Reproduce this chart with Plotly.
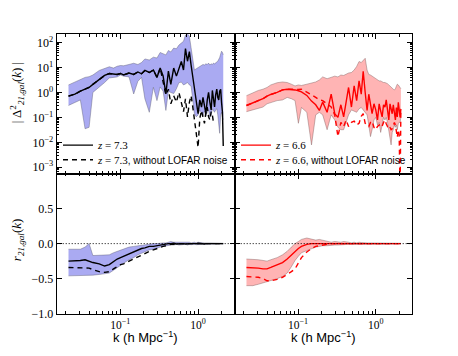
import plotly.graph_objects as go

# ---------------- data ----------------
k = [0.0217, 0.0262, 0.0308, 0.0354, 0.0399, 0.0446, 0.0538, 0.0631, 0.0725, 0.0821,
     0.0915, 0.101, 0.1106, 0.1297, 0.149, 0.1687, 0.188, 0.2075, 0.2365, 0.2668,
     0.2965, 0.326, 0.3556, 0.386, 0.4157, 0.4467, 0.4864, 0.527, 0.5675, 0.6095,
     0.650, 0.689, 0.731, 0.773, 0.813, 0.855, 0.897, 0.948, 1.0, 1.052,
     1.106, 1.156, 1.208, 1.259, 1.312, 1.363, 1.416, 1.472, 1.525, 1.575,
     1.627, 1.681, 1.737, 1.789, 1.841, 1.892, 1.95, 2.0, 2.056, 2.104]

# z = 7.3 : |Delta^2_21,gal(k)|
ps73 = [0.71, 0.85, 1.12, 1.32, 1.58, 2.1, 3.16, 4.8, 5.75, 5.5,
        5.25, 5.75, 5.0, 6.0, 5.25, 6.6, 5.6, 7.6, 6.3, 7.9,
        4.0, 9.5, 4.6, 0.87, 7.2, 2.1, 9.5, 4.5, 10, 17.4,
        7.9, 57.5, 17.8, 43.6, 12.6, 4.0, 1.35, 0.35, 0.14, 0.5,
        0.26, 0.63, 0.32, 0.14, 0.5, 1.0, 0.4, 0.2, 1.2, 0.5,
        0.26, 0.8, 1.35, 0.63, 0.5, 1.12, 1.35, 0.4, 0.16, 0.0071]
ps73_nonoise = [0.71, 0.85, 1.12, 1.32, 1.58, 2.1, 3.16, 4.8, 5.75, 5.5,
                5.25, 5.75, 5.0, 6.0, 5.25, 6.6, 5.6, 7.6, 6.3, 7.9,
                4.0, 9.5, 2.8, 0.8, 1.35, 0.35, 0.74, 0.41, 1.0, 0.35,
                0.17, 0.55, 0.105, 0.4, 0.74, 0.26, 0.091, 0.032, 0.0063, 0.091,
                0.19, 0.1, 0.058, 0.16, 0.26, 0.105, 0.079, 0.17, 0.126, 0.063]
ps73_hi = [2.0, 2.6, 3.5, 4.0, 4.3, 5.0, 7.6, 9.5, 10.7, 9.5,
           11.2, 12, 11.7, 13.2, 14.8, 13.2, 15.8, 22, 20, 26,
           24, 40, 35, 32, 48, 42, 60, 56, 79, 100,
           112, 200, 224, 178, 63, 20, 7.9, 8.9, 10, 11.2,
           12.6, 13.2, 12.6, 14, 13.2, 15, 12.6, 14, 13.2, 15,
           14, 15.8, 16.6, 17.8, 20, 25, 35, 45, 40, 32]
ps73_lo = [0.3, 0.38, 0.5, 0.035, 0.04, 1.0, 1.6, 2.5, 3.8, 4.0,
           4.2, 5.0, 4.5, 4.2, 0.87, 2.8, 4.0, 0.56, 0.16, 1.6,
           0.47, 1.66, 1.12, 0.19, 1.12, 1.0, 0.9, 1.4, 2.45, 2.6,
           2.0, 2.2, 2.5, 2.0, 1.8, 0.5, 0.14, 0.105, 0.126, 0.2,
           0.14, 0.11, 0.18, 0.11, 0.16, 0.2, 0.1, 0.126, 0.22, 0.18,
           0.16, 0.2, 0.22, 0.126, 0.05, 0.023, 0.126, 0.16, 0.1, 0.08]

# z = 6.6 : |Delta^2_21,gal(k)|
ps66 = [0.3, 0.38, 0.47, 0.56, 0.71, 0.83, 1.0, 1.26, 1.35, 1.32,
        1.26, 1.17, 1.05, 0.76, 0.45, 0.32, 0.19, 0.41, 0.16, 0.85,
        0.14, 0.1, 0.32, 0.105, 0.41, 1.58, 0.26, 1.82, 0.47, 2.9,
        0.85, 7.1, 1.0, 0.19, 0.85, 0.32, 0.14, 0.35, 0.2, 0.079,
        0.35, 0.18, 0.105, 0.32, 0.26, 0.5, 0.19, 0.079, 0.35, 0.25,
        0.14, 0.32, 0.16, 0.079, 0.25, 0.105, 0.4, 0.2, 0.1, 0.22]
ps66_nonoise = [0.3, 0.38, 0.47, 0.56, 0.71, 0.83, 1.0, 1.26, 1.35, 1.32,
                1.32, 1.32, 1.35, 1.05, 0.8, 0.63, 0.5, 0.47, 0.35, 0.26,
                0.126, 0.017, 0.063, 0.043, 0.079, 0.043, 0.063, 0.071, 0.05, 0.058,
                0.11, 0.14, 0.058, 0.05, 0.043, 0.063, 0.071, 0.04, 0.032, 0.043,
                0.05, 0.04, 0.045, 0.063, 0.079, 0.056, 0.043, 0.05, 0.04, 0.032,
                0.035, 0.05, 0.063, 0.05, 0.032, 0.016, 0.032, 0.02, 0.0001, 0.22]
ps66_hi = [0.74, 1.0, 1.2, 1.35, 1.58, 2.0, 2.45, 2.63, 2.5, 2.14,
           1.82, 2.0, 1.9, 2.14, 2.45, 2.63, 3.16, 4.2, 3.55, 4.0,
           4.5, 4.2, 5.0, 4.8, 5.6, 6.0, 6.3, 7.9, 11, 17.4,
           15.8, 20, 23.4, 7.9, 5.25, 5.0, 4.5, 4.0, 3.8, 3.16,
           2.9, 2.9, 2.63, 2.5, 2.5, 2.4, 2.24, 2.0, 1.78, 1.58,
           1.41, 1.35, 1.26, 1.41, 1.78, 2.14, 2.0, 1.78, 1.58, 1.41]
ps66_lo = [0.17, 0.2, 0.24, 0.26, 0.35, 0.4, 0.47, 0.5, 0.63, 0.56,
           0.47, 0.058, 0.25, 0.16, 0.0079, 0.126, 0.16, 0.126, 0.032, 0.126,
           0.079, 0.04, 0.032, 0.032, 0.063, 0.126, 0.2, 0.18, 0.16, 0.22,
           0.25, 0.2, 0.16, 0.126, 0.05, 0.017, 0.032, 0.079, 0.1, 0.05,
           0.063, 0.025, 0.05, 0.1, 0.079, 0.1, 0.063, 0.032, 0.016, 0.0079,
           0.025, 0.032, 0.05, 0.04, 0.05, 0.032, 0.056, 0.063, 0.063, 0.1]

# z = 7.3 : r_21,gal(k)
r73 = [-0.25, -0.25, -0.24, -0.23, -0.25, -0.27, -0.29, -0.32, -0.30, -0.25,
       -0.22, -0.2, -0.18, -0.15, -0.11, -0.09, -0.07, -0.06, -0.04, -0.04,
       -0.03, -0.02, -0.01, -0.01, 0.0, 0.0, 0.005, -0.005, 0.0, 0.005,
       0.0, -0.005, 0.0, 0.005, 0.0, 0.0, -0.005, 0.0, 0.005, 0.0,
       0.0, 0.0, -0.005, 0.0, 0.0, 0.005, 0.0, 0.0, 0.0, -0.005,
       0.0, 0.0, 0.0, 0.005, 0.0, 0.0, 0.0, 0.0, 0.0, 0.0]
r73_nonoise = [-0.34, -0.34, -0.34, -0.34, -0.35, -0.37, -0.40, -0.41, -0.40, -0.36,
               -0.33, -0.30, -0.29, -0.25, -0.22, -0.19, -0.16, -0.14, -0.11, -0.09,
               -0.07, -0.05, -0.04, -0.03, -0.02, -0.01, -0.01, 0.0, 0.0, 0.0,
               0.0, 0.0, 0.0, 0.0, 0.0, 0.0, 0.0, 0.0, 0.0, 0.0,
               0.0, 0.0, 0.0, 0.0, 0.0, 0.0, 0.0, 0.0, 0.0, 0.0,
               0.0, 0.0, 0.0, 0.0, 0.0, 0.0, 0.0, 0.0, 0.0, 0.0]
r73_hi = [-0.08, -0.08, -0.08, -0.05, 0.0, -0.17, -0.17, -0.16, -0.16, -0.13,
          -0.11, -0.09, -0.08, -0.05, -0.04, -0.03, -0.02, -0.01, 0.0, 0.0,
          0.0, 0.01, 0.01, 0.01, 0.02, 0.03, 0.02, 0.02, 0.03, 0.02,
          0.02, 0.02, 0.03, 0.02, 0.01, 0.02, 0.02, 0.01, 0.02, 0.015,
          0.01, 0.015, 0.01, 0.01, 0.015, 0.01, 0.01, 0.01, 0.015, 0.01,
          0.01, 0.01, 0.008, 0.01, 0.008, 0.008, 0.008, 0.006, 0.006, 0.005]
r73_lo = [-0.46, -0.46, -0.46, -0.45, -0.45, -0.45, -0.44, -0.43, -0.42, -0.38,
          -0.34, -0.31, -0.28, -0.23, -0.2, -0.16, -0.14, -0.12, -0.09, -0.08,
          -0.06, -0.05, -0.04, -0.03, -0.02, -0.02, -0.02, -0.01, -0.02, -0.015,
          -0.02, -0.01, -0.02, -0.01, -0.015, -0.01, -0.01, -0.015, -0.01, -0.01,
          -0.01, -0.01, -0.01, -0.008, -0.01, -0.008, -0.01, -0.008, -0.008, -0.008,
          -0.008, -0.006, -0.006, -0.006, -0.006, -0.005, -0.005, -0.005, -0.005, -0.005]

# z = 6.6 : r_21,gal(k)
r66 = [-0.34, -0.34, -0.35, -0.36, -0.36, -0.34, -0.3, -0.27, -0.22, -0.16,
       -0.11, -0.07, -0.04, -0.01, 0.0, 0.0, 0.005, 0.0, -0.005, 0.0,
       0.005, 0.0, 0.0, -0.005, 0.0, 0.005, 0.0, 0.0, 0.0, -0.005,
       0.0, 0.005, 0.0, 0.0, 0.0, 0.0, -0.005, 0.0, 0.0, 0.005,
       0.0, 0.0, 0.0, 0.0, -0.005, 0.0, 0.0, 0.0, 0.005, 0.0,
       0.0, 0.0, 0.0, 0.0, 0.0, 0.0, 0.0, 0.0, 0.0, 0.0]
r66_nonoise = [-0.47, -0.47, -0.48, -0.5, -0.53, -0.53, -0.51, -0.48, -0.44, -0.4,
               -0.36, -0.28, -0.2, -0.12, -0.07, -0.04, -0.03, -0.02, -0.01, 0.0,
               0.0, 0.0, 0.0, 0.0, 0.0, 0.0, 0.0, 0.0, 0.0, 0.0,
               0.0, 0.0, 0.0, 0.0, 0.0, 0.0, 0.0, 0.0, 0.0, 0.0,
               0.0, 0.0, 0.0, 0.0, 0.0, 0.0, 0.0, 0.0, 0.0, 0.0,
               0.0, 0.0, 0.0, 0.0, 0.0, 0.0, 0.0, 0.0, 0.0, 0.0]
r66_hi = [-0.22, -0.22, -0.23, -0.24, -0.25, -0.23, -0.2, -0.16, -0.11, -0.05,
          0.0, 0.03, 0.06, 0.08, 0.06, 0.05, 0.06, 0.05, 0.04, 0.02,
          0.03, 0.02, 0.02, 0.03, 0.02, 0.02, 0.01, 0.02, 0.01, 0.02,
          0.015, 0.01, 0.015, 0.01, 0.01, 0.01, 0.015, 0.01, 0.01, 0.01,
          0.01, 0.01, 0.01, 0.01, 0.008, 0.01, 0.008, 0.008, 0.008, 0.008,
          0.006, 0.006, 0.006, 0.006, 0.006, 0.005, 0.005, 0.005, 0.005, 0.005]
r66_lo = [-0.6, -0.6, -0.58, -0.56, -0.55, -0.53, -0.5, -0.47, -0.42, -0.33,
          -0.24, -0.18, -0.13, -0.1, -0.07, -0.05, -0.04, -0.03, -0.03, -0.02,
          -0.02, -0.02, -0.015, -0.01, -0.015, -0.01, -0.01, -0.015, -0.01, -0.01,
          -0.01, -0.01, -0.01, -0.008, -0.01, -0.008, -0.008, -0.008, -0.008, -0.008,
          -0.006, -0.006, -0.006, -0.006, -0.006, -0.005, -0.005, -0.005, -0.005, -0.005,
          -0.005, -0.005, -0.005, -0.005, -0.005, -0.005, -0.005, -0.005, -0.005, -0.005]

# tick labels
xtick_vals = [0.1, 1.0]
xtick_text = ["10<sup>−1</sup>", "10<sup>0</sup>"]
ytop_vals = [1e-3, 1e-2, 1e-1, 1e0, 1e1, 1e2]
ytop_text = ["10<sup>−3</sup>", "10<sup>−2</sup>", "10<sup>−1</sup>",
             "10<sup>0</sup>", "10<sup>1</sup>", "10<sup>2</sup>"]
ybot_vals = [-1.0, -0.5, 0.0, 0.5]
ybot_text = ["−1.0", "−0.5", "0.0", "0.5"]
legend_labels_73 = ["<i>z</i> = 7.3",
                    "<i>z</i> = 7.3<span style='font-family:Liberation Sans;font-size:10px'>, without LOFAR noise</span>"]
legend_labels_66 = ["<i>z</i> = 6.6",
                    "<i>z</i> = 6.6<span style='font-family:Liberation Sans;font-size:10px'>, without LOFAR noise</span>"]

# ---------------- figure ----------------
W, H = 458, 356
SERIF = "Liberation Serif"
SANS = "Liberation Sans"

fig = go.Figure()

minor_x = [m * 10.0 ** e for e in (-2, -1, 0) for m in range(2, 10)]
minor_y = [m * 10.0 ** e for e in (-4, -3, -2, -1, 0, 1, 2) for m in range(2, 10)]


def band(xa, ya, lo, hi, fill, edge):
    fig.add_trace(go.Scatter(x=k, y=lo, xaxis=xa, yaxis=ya, mode="lines",
                             line=dict(color=edge, width=0.6), showlegend=False,
                             hoverinfo="skip"))
    fig.add_trace(go.Scatter(x=k, y=hi, xaxis=xa, yaxis=ya, mode="lines",
                             line=dict(color=edge, width=0.6), fill="tonexty",
                             fillcolor=fill, showlegend=False, hoverinfo="skip"))


def lines(xa, ya, solid, dashed, color, labels, legs, show):
    fig.add_trace(go.Scatter(x=k[:len(dashed)], y=dashed, xaxis=xa, yaxis=ya, mode="lines",
                             line=dict(color=color, width=1.4, dash="5px,4px"),
                             name=labels[1], showlegend=show, legend=legs[1]))
    fig.add_trace(go.Scatter(x=k, y=solid, xaxis=xa, yaxis=ya, mode="lines",
                             line=dict(color=color, width=1.4),
                             name=labels[0], showlegend=show, legend=legs[0]))


BLUE_FILL, BLUE_EDGE = "rgb(170,170,242)", "rgba(90,90,110,0.7)"
RED_FILL, RED_EDGE = "rgb(255,180,180)", "rgba(120,90,90,0.7)"

band("x", "y", ps73_lo, ps73_hi, BLUE_FILL, BLUE_EDGE)
lines("x", "y", ps73, ps73_nonoise, "black", legend_labels_73, ("legend", "legend3"), True)
band("x2", "y2", ps66_lo, ps66_hi, RED_FILL, RED_EDGE)
lines("x2", "y2", ps66, ps66_nonoise, "red", legend_labels_66, ("legend2", "legend4"), True)
band("x3", "y3", r73_lo, r73_hi, BLUE_FILL, BLUE_EDGE)
lines("x3", "y3", r73, r73_nonoise, "black", legend_labels_73, ("legend", "legend3"), False)
band("x4", "y4", r66_lo, r66_hi, RED_FILL, RED_EDGE)
lines("x4", "y4", r66, r66_nonoise, "red", legend_labels_66, ("legend2", "legend4"), False)

xL = [56.7 / W, 234.7 / W]
xR = [234.7 / W, 412.3 / W]
yT = [1 - 177 / H, 1 - 35 / H]
yB = [1 - 320 / H, 1 - 177 / H]

common = dict(showline=True, linecolor="black", linewidth=1, mirror="allticks",
              ticks="inside", ticklen=5, tickwidth=1, tickcolor="black",
              showgrid=False, zeroline=False,
              tickfont=dict(family=SERIF, size=12, color="black"))
xcommon = dict(common, type="log", range=[-1.815, 0.47], tickmode="array",
               tickvals=xtick_vals, ticktext=xtick_text,
               tickfont=dict(family=SERIF, size=11.5, color="black"),
               minor=dict(tickmode="array", tickvals=minor_x, ticks="inside",
                          ticklen=2.5, tickcolor="black", showgrid=False))
ytopcommon = dict(common, type="log", range=[-3.25, 2.33], tickmode="array",
                  tickvals=ytop_vals, ticktext=ytop_text,
                  minor=dict(tickmode="array", tickvals=minor_y, ticks="inside",
                             ticklen=2.5, tickcolor="black", showgrid=False))
ybotcommon = dict(common, range=[-1.0, 1.0], tickmode="array",
                  tickvals=ybot_vals, ticktext=ybot_text)


def leg(xpx, ypx):
    return dict(x=xpx / W, y=1 - ypx / H, xanchor="left", yanchor="middle",
                bgcolor="rgba(0,0,0,0)", font=dict(family=SERIF, size=11, color="black"),
                itemwidth=30, borderwidth=0)


fig.update_layout(
    width=W, height=H,
    margin=dict(l=0, r=0, t=0, b=0),
    paper_bgcolor="white", plot_bgcolor="white",
    font=dict(family=SERIF, size=12, color="black"),
    xaxis=dict(xcommon, domain=xL, anchor="y", showticklabels=False),
    yaxis=dict(ytopcommon, domain=yT, anchor="x"),
    xaxis2=dict(xcommon, domain=xR, anchor="y2", showticklabels=False),
    yaxis2=dict(ytopcommon, domain=yT, anchor="x2", showticklabels=False),
    xaxis3=dict(xcommon, domain=xL, anchor="y3"),
    yaxis3=dict(ybotcommon, domain=yB, anchor="x3"),
    xaxis4=dict(xcommon, domain=xR, anchor="y4"),
    yaxis4=dict(ybotcommon, domain=yB, anchor="x4", showticklabels=False),
    legend=leg(58, 148),
    legend3=leg(58, 163),
    legend2=leg(236, 148),
    legend4=leg(236, 163),
    showlegend=True,
)

for xa, ya in (("x3", "y3"), ("x4", "y4")):
    fig.add_shape(type="line", xref=xa + " domain", yref=ya, x0=0, x1=1, y0=0, y1=0,
                  line=dict(color="black", width=1, dash="1px,2px"))

ann = [
    dict(text="| Δ<sup>2</sup><sub><i>21,gal</i></sub>(<i>k</i>) |", x=17 / W, y=1 - 95 / H,
         textangle=-90, font=dict(family=SERIF, size=13)),
    dict(text="<i>r</i><sub><i>21,gal</i></sub>(<i>k</i>)", x=17 / W, y=1 - 245 / H,
         textangle=-90, font=dict(family=SERIF, size=13)),
    dict(text="k (h Mpc<sup>−1</sup>)", x=145.7 / W, y=1 - 344 / H,
         font=dict(family=SANS, size=13)),
    dict(text="k (h Mpc<sup>−1</sup>)", x=323.5 / W, y=1 - 344 / H,
         font=dict(family=SANS, size=13)),
]
for a in ann:
    fig.add_annotation(xref="paper", yref="paper", showarrow=False,
                       xanchor="center", yanchor="middle", **a)

# remove the browser's default page margin so the figure sits at the window origin
fig.write_html("out.html",
               config={"displayModeBar": False},
               post_script="document.body.style.margin='0';document.body.style.overflow='hidden';")
